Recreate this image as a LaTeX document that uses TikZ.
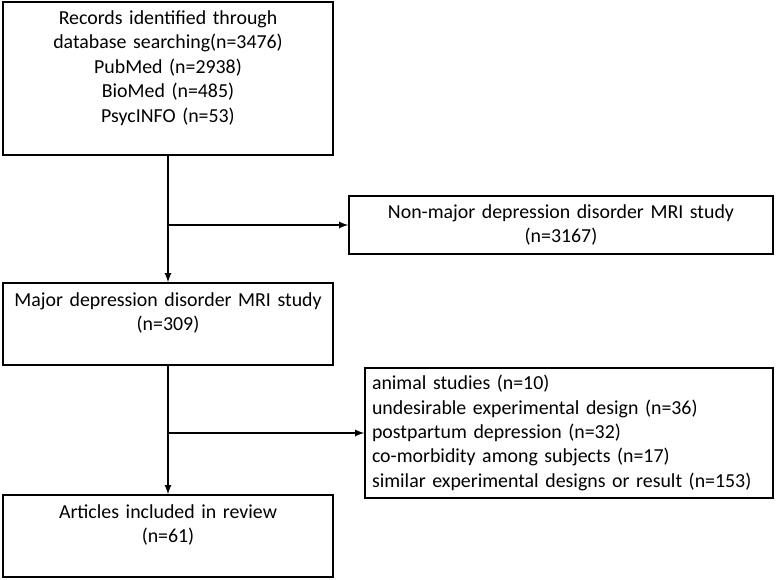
\documentclass[tikz,border=0pt]{standalone}
\usepackage{fontspec}
\setmainfont{Carlito}
\usetikzlibrary{positioning}

\begin{document}
\begin{tikzpicture}[on grid]
	\tikzstyle{stage}=[draw,thick,rectangle,align=center,text width=6.3cm,inner sep=0pt,font=\fontsize{11.3}{13.9}\selectfont]
	\tikzstyle{removed}=[draw,thick,rectangle,inner sep=0pt,font=\fontsize{11.3}{13.9}\selectfont]
	\tikzstyle{flow}=[thick,-latex]
	
	\useasboundingbox (0,0) rectangle (15.52,-11.6);
	
	%
	% main stages
	%
	\node [stage,minimum width=6.6cm,minimum height=3.06cm] at (3.36,-1.57) (records)
		{Records identified through\\ database searching(n=3476)\\ PubMed (n=2938)\\ BioMed (n=485)\\ PsycINFO (n=53)\\ \mbox{}};
	\node [stage,minimum width=6.6cm,minimum height=1.64cm,below=4.91 of records] (major)
		{Major depression disorder MRI study\\ (n=309)\\ \mbox{}};
	\node [stage,minimum width=6.6cm,minimum height=1.64cm,below=4.24 of major] (included)
		{Articles included in review\\ (n=61)\\ \mbox{}};
	
	%
	% excluded records
	%
	\node [removed,align=center,text width=8.2cm,minimum width=8.48cm,minimum height=1.16cm,below right=2.93 and 7.86 of records] (nonmajor)
		{Non-major depression disorder MRI study\\ (n=3167)};
	\node [removed,align=left,text width=7.88cm,minimum width=8.16cm,minimum height=2.6cm,below right=2.18 and 8.02 of major] (excluded)
		{animal studies (n=10)\\ undesirable experimental design (n=36)\\ postpartum depression (n=32)\\ co-morbidity among subjects (n=17)\\ similar experimental designs or result (n=153)};
	
	\coordinate (split1) at (records.south |- nonmajor.west);
	\coordinate (split2) at (major.south |- excluded.west);
	
	\begin{scope}[flow]
		\draw (records) -- (major);
		\draw (split1) -- (nonmajor);
		\draw (major) -- (included);
		\draw (split2) -- (excluded);
	\end{scope}
	
\end{tikzpicture}
\end{document}
